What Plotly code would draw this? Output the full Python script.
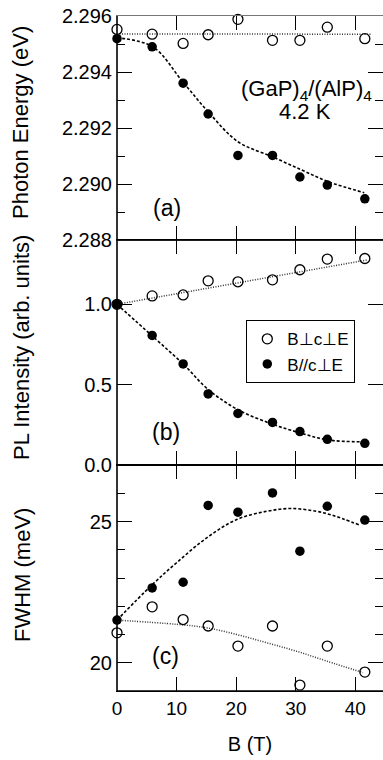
import plotly.graph_objects as go

# ---------------- data ----------------
B = [0, 5.9, 11.1, 15.3, 20.3, 26.1, 30.7, 35.3, 41.6]

# (a) photon energy (eV)
E_perp = [2.29552, 2.29535, 2.29502, 2.29533, 2.29588, 2.29513, 2.29513, 2.29560, 2.29519]
E_par = [2.29519, 2.29490, 2.29360, 2.29250, 2.29102, 2.29102, 2.29025, 2.28996, 2.28947]
fitB_E_perp = [0, 42.6]
fit_E_perp = [2.29536, 2.29535]
fitB_E_par = [0, 6.0, 11.0, 15.3, 20.3, 26.0, 31.0, 35.5, 41.5]
fit_E_par = [2.29522, 2.29490, 2.29366, 2.29258, 2.29151, 2.29098, 2.29050, 2.29008, 2.28969]

# (b) PL intensity (arb. units)
I_perp = [1.0, 1.052, 1.058, 1.146, 1.140, 1.152, 1.215, 1.281, 1.285]
I_par = [1.0, 0.806, 0.629, 0.442, 0.321, 0.265, 0.208, 0.160, 0.135]
fitB_I_perp = [0, 42.0]
fit_I_perp = [1.0, 1.276]
fitB_I_par = [0, 6.0, 11.2, 15.3, 20.3, 26.1, 30.9, 35.4, 41.5]
fit_I_par = [1.0, 0.80, 0.625, 0.470, 0.344, 0.254, 0.198, 0.156, 0.144]

# (c) FWHM (meV)
W_perp = [21.06, 21.98, 21.53, 21.30, 20.59, 21.30, 19.21, 20.59, 19.67]
W_par = [21.51, 22.65, 22.85, 25.57, 25.33, 26.01, 23.95, 25.54, 25.05]
fitB_W_perp = [0, 10.0, 15.0, 20.1, 25.1, 30.1, 35.2, 41.3]
fit_W_perp = [21.51, 21.36, 21.24, 21.00, 20.71, 20.41, 20.06, 19.65]
fitB_W_par = [0, 5.8, 10.0, 15.05, 20.1, 25.1, 29.3, 33.5, 35.7, 38.0, 40.9]
fit_W_par = [21.51, 22.74, 23.54, 24.42, 25.07, 25.36, 25.46, 25.36, 25.25, 25.09, 24.86]

x_ticks = [0, 10, 20, 30, 40]
label_perp = "B⊥c⊥E"
label_par = "B//c⊥E"
y_titles = ["Photon Energy (eV)", "PL Intensity (arb. units)", "FWHM (meV)"]
x_title = "B (T)"

# ---------------- layout geometry ----------------
W, H = 383, 760
FONT = "Liberation Sans, Arial, Helvetica, sans-serif"


def py(p):
    return 1 - p / H


def px(p):
    return (p - 117) / (W - 117)


dom_a = [py(240), py(16)]
dom_b = [py(465), py(240)]
dom_c = [py(691), py(465)]

fig = go.Figure()

open_marker = dict(symbol="circle-open", size=10, color="black", line=dict(width=1.3, color="black"))
fill_marker = dict(symbol="circle", size=9.5, color="black")
dot_line = dict(color="#333333", width=1.5, dash="1px,1.5px", shape="spline")
dash_line = dict(color="black", width=1.6, dash="3px,2px", shape="spline")

panels = [
    ("x", "y", fitB_E_perp, fit_E_perp, fitB_E_par, fit_E_par, E_perp, E_par),
    ("x2", "y2", fitB_I_perp, fit_I_perp, fitB_I_par, fit_I_par, I_perp, I_par),
    ("x3", "y3", fitB_W_perp, fit_W_perp, fitB_W_par, fit_W_par, W_perp, W_par),
]
for i, (xa, ya, fbp, fp, fbq, fq, vp, vq) in enumerate(panels):
    fig.add_trace(go.Scatter(x=fbp, y=fp, mode="lines", line=dot_line, xaxis=xa, yaxis=ya,
                             showlegend=False, hoverinfo="skip"))
    fig.add_trace(go.Scatter(x=fbq, y=fq, mode="lines", line=dash_line, xaxis=xa, yaxis=ya,
                             showlegend=False, hoverinfo="skip"))
    fig.add_trace(go.Scatter(x=B, y=vp, mode="markers", marker=open_marker, xaxis=xa, yaxis=ya,
                             name=label_perp, showlegend=(i == 1), cliponaxis=False))
    fig.add_trace(go.Scatter(x=B, y=vq, mode="markers", marker=fill_marker, xaxis=xa, yaxis=ya,
                             name=label_par, showlegend=(i == 1), cliponaxis=False))

xcommon = dict(range=[0, 44.65], tickvals=x_ticks, ticks="inside", ticklen=14, tickwidth=1.3,
               tickcolor="black", showline=True, linecolor="black", linewidth=1.3, mirror="ticks",
               showgrid=False, zeroline=False, automargin=False,
               tickfont=dict(family=FONT, size=19, color="black"))
ycommon = dict(ticks="inside", ticklen=15, tickwidth=1.3, tickcolor="black", showline=True,
               linecolor="rgba(0,0,0,0)", mirror="ticks", showgrid=False, zeroline=False,
               automargin=False, tickfont=dict(family=FONT, size=20, color="black"))

fig.update_layout(
    width=W, height=H,
    margin=dict(l=117, r=0, t=0, b=0),
    paper_bgcolor="white", plot_bgcolor="white",
    font=dict(family=FONT, color="black"),
    xaxis=dict(xcommon, anchor="y", showticklabels=False, linecolor="#777777", linewidth=1),
    xaxis2=dict(xcommon, anchor="y2", showticklabels=False),
    xaxis3=dict(xcommon, anchor="y3", showticklabels=True,
                title=dict(text=x_title, font=dict(family=FONT, size=20, color="black"), standoff=19)),
    yaxis=dict(ycommon, domain=dom_a, anchor="x", range=[2.288, 2.296], dtick=0.002, tick0=2.288,
               tickformat=".3f", minor=dict(dtick=0.001, tick0=2.288, ticks="inside", ticklen=8,
                                            tickwidth=1.3, tickcolor="black")),
    yaxis2=dict(ycommon, domain=dom_b, anchor="x2", range=[0, 1.4], dtick=0.5, tick0=0,
                tickformat=".1f"),
    yaxis3=dict(ycommon, domain=dom_c, anchor="x3", range=[19, 27], dtick=5, tick0=0,
                minor=dict(dtick=1, tick0=0, ticks="inside", ticklen=8, tickwidth=1.3,
                           tickcolor="black")),
    legend=dict(x=px(246), y=py(320), xanchor="left", yanchor="top",
                bordercolor="black", borderwidth=1.3, bgcolor="white",
                font=dict(family=FONT, size=17, color="black"),
                itemsizing="trace", tracegroupgap=0),
    showlegend=True,
)

# black boundary lines between panels and at the bottom, left frame line
for yy in (240, 465, 691):
    fig.add_shape(type="line", xref="paper", yref="paper", x0=0, x1=1, y0=py(yy), y1=py(yy),
                  line=dict(color="black", width=1.3), layer="above")
fig.add_shape(type="line", xref="paper", yref="paper", x0=0, x1=0, y0=py(691), y1=py(16),
              line=dict(color="black", width=1.6))

ann = dict(xref="paper", yref="paper", showarrow=False, xanchor="center", yanchor="middle",
           font=dict(family=FONT, size=22, color="black"))
big = dict(ann, font=dict(family=FONT, size=23, color="black"))

# y-axis titles (rotated)
for title, (cx, cy) in zip(y_titles, [(20, 123), (21, 348), (22, 575)]):
    fig.add_annotation(ann, text=title, textangle=-90, x=px(cx), y=py(cy))

fig.add_annotation(ann, text="(GaP)<sub>4</sub>/(AlP)<sub>4</sub>", x=px(306), y=py(90))
fig.add_annotation(ann, text="4.2 K", x=px(305), y=py(111))
fig.add_annotation(big, text="(a)", x=px(167), y=py(208))
fig.add_annotation(big, text="(b)", x=px(166), y=py(432))
fig.add_annotation(big, text="(c)", x=px(165), y=py(656))

fig.write_html("out.html")
